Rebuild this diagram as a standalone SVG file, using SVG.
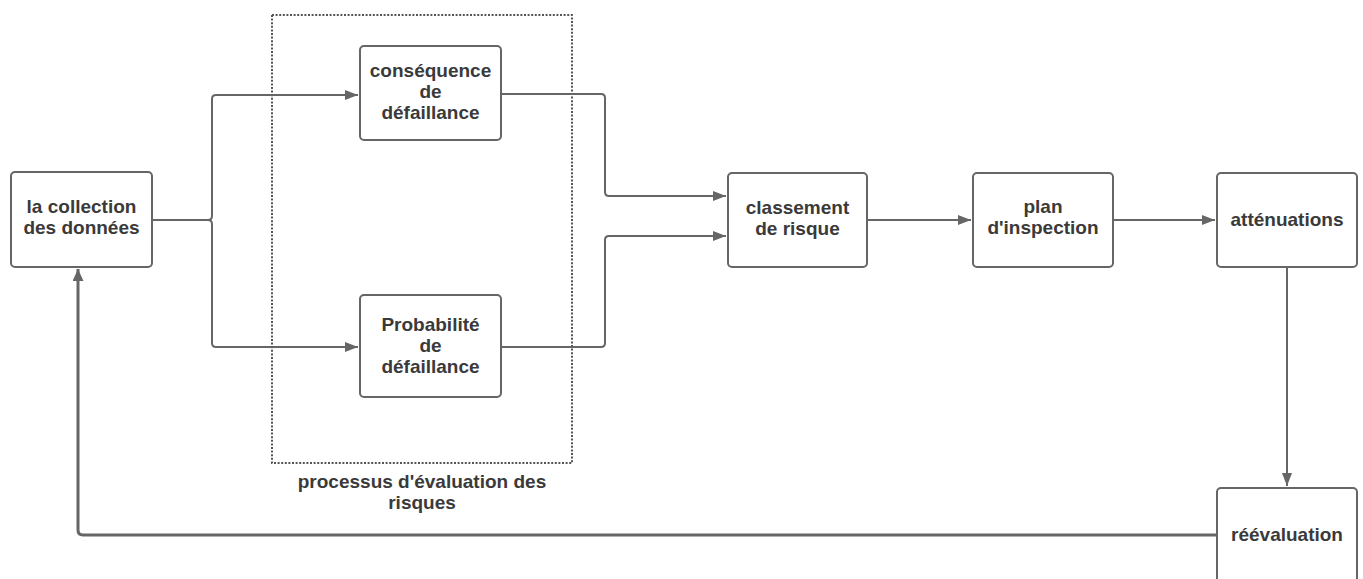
<svg xmlns="http://www.w3.org/2000/svg" width="1363" height="579" viewBox="0 0 1363 579">
<style>
.box{fill:#fff;stroke:#666;stroke-width:2}
.t{font-family:"Liberation Sans",Arial,sans-serif;font-weight:bold;font-size:19px;fill:#3a3a3a;text-anchor:middle}
.c{fill:none;stroke:#666;stroke-width:2;stroke-linejoin:round}
.frame{fill:none;stroke:#555;stroke-width:2;stroke-dasharray:2 1.6}
</style>
<defs>
<marker id="ah" viewBox="0 0 13 10" refX="13" refY="5" markerWidth="13" markerHeight="10" markerUnits="userSpaceOnUse" orient="auto">
<path d="M0,0 L13,5 L0,10 Z" fill="#666"/>
</marker>
<marker id="ah2" viewBox="0 0 12 11" refX="12" refY="5.5" markerWidth="12" markerHeight="11" markerUnits="userSpaceOnUse" orient="auto">
<path d="M0,0 L12,5.5 L0,11 Z" fill="#666"/>
</marker>
</defs>
<g id="group-frame">
<rect class="frame" x="272" y="15" width="300" height="448"/>
<text class="t" x="422" y="488">processus d'évaluation des</text>
<text class="t" x="422" y="509">risques</text>
</g>
<g id="connectors">
<path class="c" d="M152,220 H208 Q212,220 212,216 V99 Q212,95 216,95 H358" marker-end="url(#ah)"/>
<path class="c" d="M152,220 H208 Q212,220 212,224 V343 Q212,347 216,347 H358" marker-end="url(#ah)"/>
<path class="c" d="M501,94 H601 Q605,94 605,98 V192 Q605,196 609,196 H726" marker-end="url(#ah)"/>
<path class="c" d="M501,347 H601 Q605,347 605,343 V240 Q605,236 609,236 H726" marker-end="url(#ah)"/>
<path class="c" d="M867,220 H971" marker-end="url(#ah)"/>
<path class="c" d="M1113,220 H1215" marker-end="url(#ah)"/>
<path class="c" d="M1287,267 V486" marker-end="url(#ah)"/>
<path class="c" style="stroke-width:3" d="M1217,535 H83 Q78,535 78,530 V269" marker-end="url(#ah2)"/>
</g>
<g id="node-collection">
<rect class="box" x="11" y="172" width="141" height="95" rx="4"/>
<text class="t" x="81.5" y="213">la collection</text>
<text class="t" x="81.5" y="234">des données</text>
</g>
<g id="node-consequence">
<rect class="box" x="360" y="46" width="141" height="94" rx="4"/>
<text class="t" x="430.5" y="77">conséquence</text>
<text class="t" x="430.5" y="98">de</text>
<text class="t" x="430.5" y="119">défaillance</text>
</g>
<g id="node-probabilite">
<rect class="box" x="360" y="295" width="141" height="102" rx="4"/>
<text class="t" x="430.5" y="331">Probabilité</text>
<text class="t" x="430.5" y="352">de</text>
<text class="t" x="430.5" y="373">défaillance</text>
</g>
<g id="node-classement">
<rect class="box" x="728" y="173" width="139" height="94" rx="4"/>
<text class="t" x="797.5" y="214">classement</text>
<text class="t" x="797.5" y="235">de risque</text>
</g>
<g id="node-plan">
<rect class="box" x="973" y="173" width="140" height="94" rx="4"/>
<text class="t" x="1043" y="213">plan</text>
<text class="t" x="1043" y="234">d'inspection</text>
</g>
<g id="node-attenuations">
<rect class="box" x="1217" y="173" width="140" height="94" rx="4"/>
<text class="t" x="1287" y="226">atténuations</text>
</g>
<g id="node-reevaluation">
<rect class="box" x="1217" y="488" width="140" height="96" rx="4"/>
<text class="t" x="1287" y="541">réévaluation</text>
</g>
</svg>
